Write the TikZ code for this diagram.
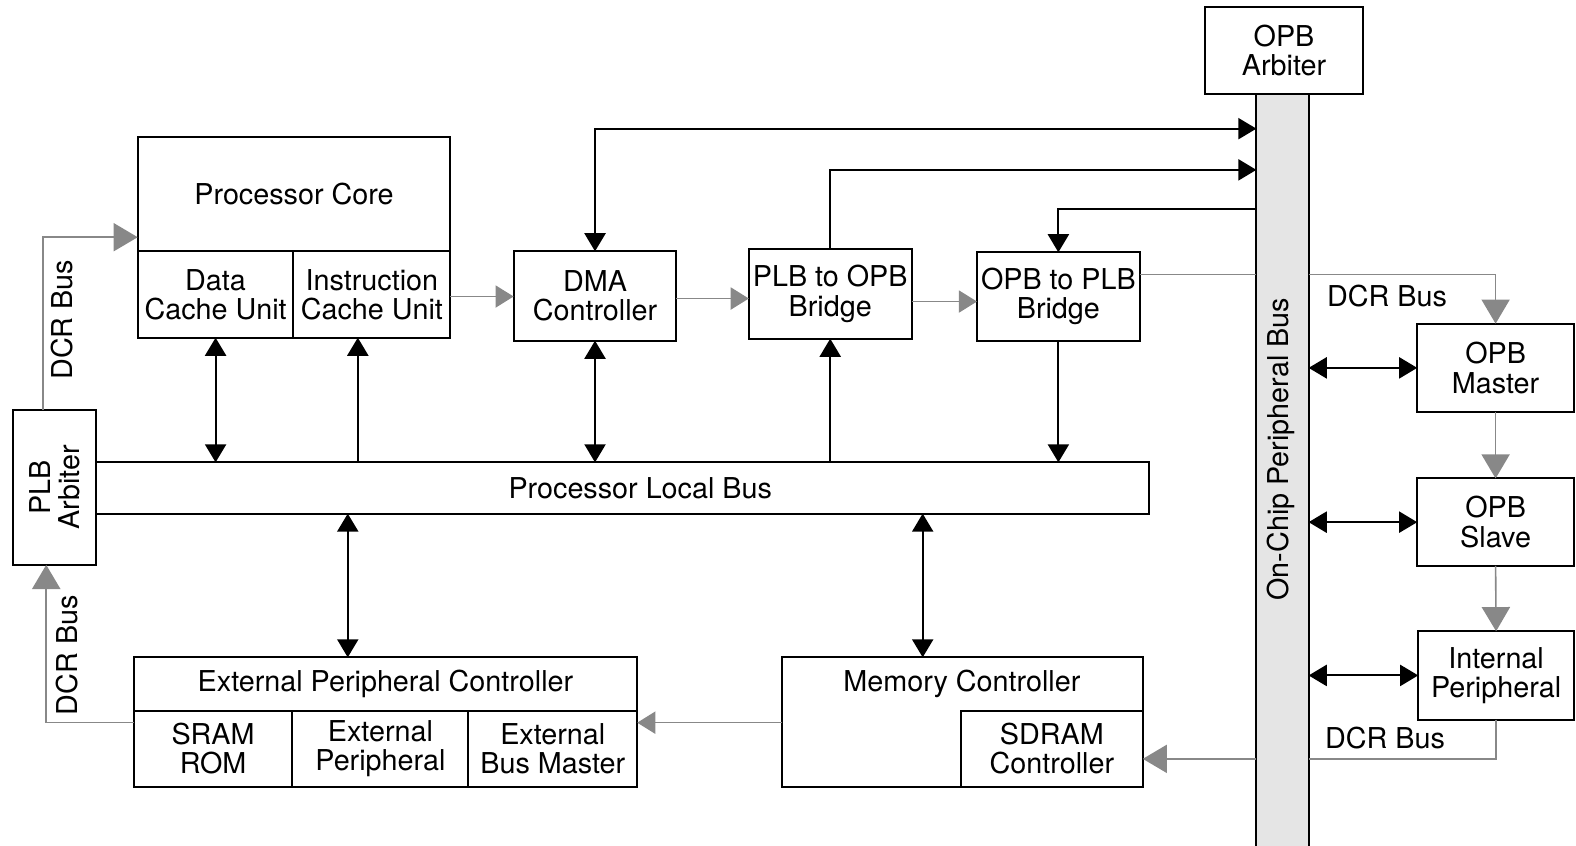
\documentclass[tikz,border=0pt]{standalone}
\usepackage{fontspec}
\setmainfont{TeX Gyre Heros}
\usetikzlibrary{arrows.meta,fit}
\definecolor{dcr}{RGB}{136,136,136}
\definecolor{busfill}{RGB}{229,229,229}
\newcommand\dgfont{\fontsize{14.3}{14.6}\selectfont}
\newcommand\bx[6]{\node[box, fit={(#2,#3) (#4,#5)}] (#1) {};\node[lbl] (#1t) at (#1) {#6};}
\begin{document}
\begin{tikzpicture}[x=0.5pt,y=-0.5pt,
  box/.style={draw, line width=1pt, inner sep=0pt, outer sep=0pt},
  lbl/.style={inner sep=0pt, align=center, font=\dgfont},
  bi/.style={line width=1pt, {Triangle[length=9pt,width=10.5pt]}-{Triangle[length=9pt,width=10.5pt]}},
  arr/.style={line width=1pt, -{Triangle[length=9pt,width=10.5pt]}},
  gline/.style={draw=dcr, line width=0.8pt},
  garr/.style={draw=dcr, line width=0.8pt, -{Triangle[length=12pt,width=14pt]}},
  gsm/.style={draw=dcr, line width=0.8pt, -{Triangle[length=9pt,width=11pt]}}]
\useasboundingbox (0,0) rectangle (1568,841);
% boxes
\bx{pc}{137}{136}{448}{250}{Processor Core}
\bx{dcu}{137}{250}{292}{336}{Data\\Cache Unit}
\bx{icu}{292}{250}{448}{336}{Instruction\\Cache Unit}
\bx{dma}{511}{250}{673}{339}{DMA\\Controller}
\bx{p2o}{745}{248}{907}{337}{PLB to OPB\\Bridge}
\bx{o2p}{972}{251}{1134}{339}{OPB to PLB\\Bridge}
\node[box, fit={(13,408) (96,562)}] (arb) {};
\node[lbl, rotate=90] (arbt) at (arb) {PLB\\Arbiter};
\node[box, fit={(96,460) (1143,511)}] (plb) {};
\node[lbl] (plbt) at (637,486) {Processor Local Bus};
\bx{opba}{1199}{7}{1356}{94}{OPB\\Arbiter}
\node[box, fill=busfill, fit={(1250,94) (1302,860)}] (bar) {};
\node[lbl, rotate=90] (bart) at (1274,447) {On-Chip Peripheral Bus};
\bx{opbm}{1410}{322}{1566}{410}{OPB\\Master}
\bx{opbs}{1410}{476}{1566}{563}{OPB\\Slave}
\bx{ip}{1411}{628}{1566}{716}{Internal\\Peripheral}
\bx{epc}{133}{654}{634}{707}{External Peripheral Controller}
\bx{sram}{133}{707}{291}{783}{SRAM\\ROM}
\bx{ep}{291}{707}{466}{783}{External\\Peripheral}
\bx{ebm}{466}{707}{634}{783}{External\\Bus Master}
\node[box, fit={(778,654) (1137,783)}] (mc) {};
\node[lbl] (mct) at (957,680) {Memory Controller};
\bx{sdram}{956}{707}{1137}{783}{SDRAM\\Controller}
% labels
\node[lbl, rotate=90] (dcr1) at (62,318) {DCR Bus};
\node[lbl, rotate=90] (dcr2) at (67,652) {DCR Bus};
\node[lbl] (dcr3) at (1380,295) {DCR Bus};
\node[lbl] (dcr4) at (1378,734) {DCR Bus};
% gray DCR / data flow
\draw[garr] (43,0 |- arb.north) |- (pc.west |- 0,236);
\draw[garr] (sram.west |- 0,719) -| (46,0 |- arb.south);
\draw[gsm] (icu.east |- 0,295) -- (dma.west |- 0,295);
\draw[gsm] (dma.east |- 0,297) -- (p2o.west |- 0,297);
\draw[gsm] (p2o.east |- 0,300) -- (o2p.west |- 0,300);
\draw[gline] (o2p.east |- 0,273) -- (bar.west |- 0,273);
\draw[garr] (bar.east |- 0,273) -| (opbm.north);
\draw[garr] (opbm.south) -- (opbs.north);
\draw[garr] (opbs.south) -- (ip.north);
\draw[gline] (ip.south) |- (bar.east |- 0,755);
\draw[garr] (bar.west |- 0,755) -- (sdram.east |- 0,755);
\draw[gsm] (mc.west |- 0,719) -- (ebm.east |- 0,719);
% black bus connections
\draw[bi] (dcu.south) -- (dcu.south |- plb.north);
\draw[arr] (356,0 |- plb.north) -- (356,0 |- icu.south);
\draw[bi] (dma.south) -- (dma.south |- plb.north);
\draw[arr] (p2o.south |- plb.north) -- (p2o.south);
\draw[arr] (o2p.south) -- (o2p.south |- plb.north);
\draw[bi] (346,0 |- plb.south) -- (346,0 |- epc.north);
\draw[bi] (918,0 |- plb.south) -- (918,0 |- mc.north);
\draw[bi] (dma.north) |- (bar.west |- 0,128);
\draw[arr] (p2o.north) |- (bar.west |- 0,169);
\draw[arr] (bar.west |- 0,208) -| (o2p.north);
\draw[bi] (bar.east |- opbm.west) -- (opbm.west);
\draw[bi] (bar.east |- opbs.west) -- (opbs.west);
\draw[bi] (bar.east |- ip.west) -- (ip.west);
\end{tikzpicture}
\end{document}
